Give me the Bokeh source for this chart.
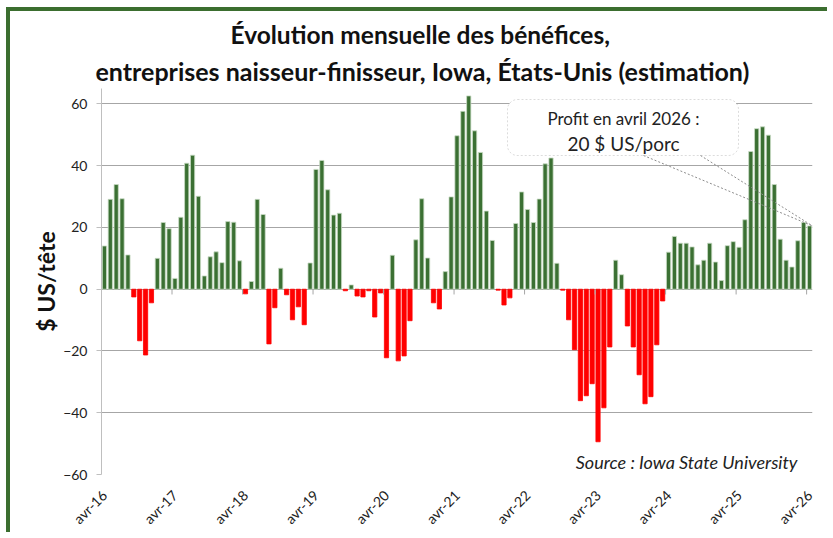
import math
from bokeh.plotting import figure
from bokeh.models import (FixedTicker, Label, BoxAnnotation, Arrow, Range1d,
                          ColumnDataSource, Title)
from bokeh.embed import file_html
from bokeh.resources import INLINE

# ---------------- data ----------------
month_names = ["avr", "mai", "juin", "juil", "août", "sept", "oct", "nov",
               "déc", "janv", "févr", "mars"]
months = []
for k in range(121):
    yr = 16 + (k + 3) // 12
    months.append(f"{month_names[k % 12]}-{yr}")

profit = [
    14.0, 29.1, 33.9, 29.3, 11.1, -2.5, -16.7, -21.3, -4.4, 10.0, 21.6, 19.6,
    3.5, 23.3, 40.8, 43.4, 30.1, 4.3, 10.5, 12.1, 8.6, 21.9, 21.7, 9.2,
    -1.5, 2.5, 29.1, 24.2, -17.7, -6.0, 6.8, -1.8, -9.9, -5.7, -11.5, 8.5,
    38.8, 41.7, 32.2, 24.0, 24.6, -0.5, 1.4, -2.2, -2.5, -0.5, -9.0, -1.2,
    -22.2, 11.0, -23.2, -21.6, -10.2, 16.0, 29.3, 10.1, -4.4, -6.4, 5.7, 29.9,
    49.7, 57.6, 62.6, 51.3, 44.3, 25.3, 15.8, -0.3, -5.1, -2.8, 21.3, 31.5,
    25.8, 21.6, 29.2, 40.6, 42.5, 8.4, -0.3, -9.9, -19.6, -36.1, -34.5, -30.6,
    -49.4, -38.4, -18.7, 9.4, 4.7, -11.9, -18.7, -27.7, -37.1, -34.8, -18.0, -3.8,
    12.0, 17.1, 14.9, 14.9, 13.7, 7.9, 9.4, 14.9, 8.8, 2.8, 14.1, 15.4,
    13.6, 22.5, 44.6, 52.0, 52.6, 49.9, 33.9, 16.2, 9.4, 7.2, 15.7, 21.6,
    20.5,
]

tick_labels = ["avr-16", "avr-17", "avr-18", "avr-19", "avr-20", "avr-21",
               "avr-22", "avr-23", "avr-24", "avr-25", "avr-26"]
y_ticks = [-60, -40, -20, 0, 20, 40, 60]

# ---------------- styling ----------------
GREEN = "#3b7033"
RED = "#ff0000"
GRID = "#a6a6a6"
FONT = "Lato"

idx = list(range(len(profit)))
colors = [GREEN if v >= 0 else RED for v in profit]
lines = ["#c9dcc5" if v >= 0 else RED for v in profit]
src = ColumnDataSource(dict(x=idx, v=profit, m=months, c=colors, l=lines))

p = figure(width=821, height=525,
           x_range=Range1d(-0.5, len(profit) - 0.5), y_range=Range1d(-60, 65),
           output_backend="svg", toolbar_location=None,
           min_border_left=91, min_border_right=19,
           min_border_top=77, min_border_bottom=56)
p.styles = {"margin-left": "6px", "margin-top": "7px",
            "border-left": "4px solid #3b6e2f", "border-top": "4px solid #3b6e2f"}
p.outline_line_color = None
p.background_fill_color = "white"
p.border_fill_color = "white"

p.xgrid.grid_line_color = None
p.ygrid.ticker = FixedTicker(ticks=y_ticks)
p.ygrid.grid_line_color = GRID
p.ygrid.grid_line_width = 1

p.yaxis.ticker = FixedTicker(ticks=y_ticks)
p.yaxis.axis_line_color = "#bfbfbf"
p.yaxis.major_tick_line_color = "#bfbfbf"
p.yaxis.major_tick_out = 5
p.yaxis.major_tick_in = 0
p.yaxis.minor_tick_line_color = None
p.yaxis.major_label_text_font = FONT
p.yaxis.major_label_text_font_size = "14px"
p.yaxis.major_label_text_color = "#222222"
p.yaxis.major_label_standoff = 9
p.yaxis.axis_label = "$ US/tête"
p.yaxis.axis_label_text_font = FONT
p.yaxis.axis_label_text_font_size = "23px"
p.yaxis.axis_label_text_font_style = "bold"
p.yaxis.axis_label_text_color = "#111111"
p.yaxis.axis_label_standoff = 0

tick_pos = [i for i in idx if i % 12 == 0]
p.xaxis.ticker = FixedTicker(ticks=tick_pos)
p.xaxis.major_label_overrides = {t: lab for t, lab in zip(tick_pos, tick_labels)}
p.xaxis.major_label_orientation = math.pi / 4
p.xaxis.axis_line_color = None
p.xaxis.major_tick_line_color = None
p.xaxis.minor_tick_line_color = None
p.xaxis.major_label_text_font = FONT
p.xaxis.major_label_text_font_size = "14px"
p.xaxis.major_label_text_color = "#222222"
p.xaxis.major_label_standoff = 12

# bars
p.vbar(x="x", top="v", bottom=0, width=0.72, fill_color="c", line_color="l",
       line_width=0.8, source=src)

# small tick marks on the zero line (category boundaries, yearly)
bounds = [t - 0.5 for t in tick_pos[1:]]
p.segment(x0=bounds, y0=[0] * len(bounds), x1=bounds, y1=[-1.7] * len(bounds),
          line_color=GRID, line_width=1)

# ---------------- title (two lines, nearest to plot added first) ----------------
p.add_layout(Title(text="entreprises naisseur-finisseur, Iowa, États-Unis (estimation)",
                   align="left", offset=-6, standoff=6,
                   text_font=FONT, text_font_style="bold",
                   text_font_size="25px", text_color="#111111"), "above")
p.add_layout(Title(text="Évolution mensuelle des bénéfices,",
                   align="left", offset=129, standoff=4,
                   text_font=FONT, text_font_style="bold",
                   text_font_size="24.5px", text_color="#111111"), "above")

# source
p.add_layout(Label(x=696, y=13, x_units="screen", y_units="screen",
                   text="Source : Iowa State University",
                   text_align="right", text_baseline="middle",
                   text_font=FONT, text_font_style="italic",
                   text_font_size="18px", text_color="#222222"))

# callout
p.add_layout(BoxAnnotation(left=406, right=637, top=375, bottom=319,
                           left_units="screen", right_units="screen",
                           top_units="screen", bottom_units="screen",
                           fill_color="white", fill_alpha=1.0,
                           line_color="#8c8c8c", line_dash="2 2", line_width=1,
                           border_radius=10))
last_x = idx[-1] + 0.5
last_y = profit[-1]
for sx in (542, 599):
    p.add_layout(Arrow(x_start=sx, y_start=319, start_units="screen",
                       x_end=last_x, y_end=last_y, end_units="data",
                       end=None, line_color="#8c8c8c", line_dash="2 2",
                       line_width=1))
p.add_layout(Label(x=522, y=356, x_units="screen", y_units="screen",
                   text="Profit en avril 2026 :", text_align="center",
                   text_baseline="middle", text_font=FONT,
                   text_font_size="17px", text_color="#222222"))
p.add_layout(Label(x=522, y=331, x_units="screen", y_units="screen",
                   text=f"{round(last_y)} $ US/porc", text_align="center",
                   text_baseline="middle", text_font=FONT,
                   text_font_size="19px", text_color="#222222"))

open("out.html", "w").write(file_html(p, INLINE))
